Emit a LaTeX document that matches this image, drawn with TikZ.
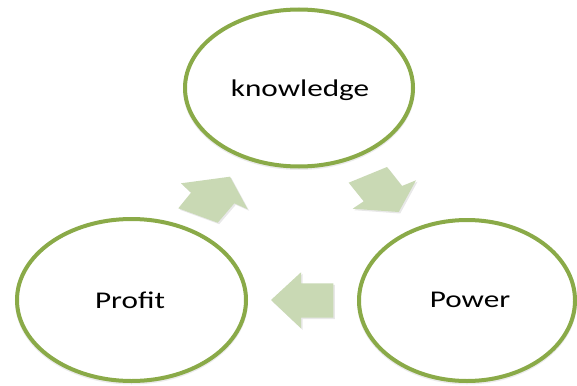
\documentclass[tikz,border=0pt]{standalone}
\usepackage{fontspec}
\setmainfont{Carlito}
\begin{document}
\begin{tikzpicture}[x=1pt,y=-1pt,
  ring/.style={draw=ringgreen, line width=4pt, fill=white},
  ringshadow/.style={draw=black, draw opacity=0.08, line width=4pt},
  label/.style={font=\fontsize{24}{28}\selectfont, text=black, inner sep=0pt},
  blockarrow/.style={fill=arrowgreen, draw=none},
  arrowshadow/.style={fill=black, fill opacity=0.09, draw=none}]
  \definecolor{ringgreen}{RGB}{138,170,72}
  \definecolor{arrowgreen}{RGB}{201,217,180}
  \useasboundingbox (0,0) rectangle (577,385);
  \fill[white] (0,0) rectangle (577,385);

  % soft shadows under the rings
  \draw[ringshadow] (299,89.5) ellipse [x radius=114, y radius=78.5];
  \draw[ringshadow] (131.5,301.5) ellipse [x radius=114.5, y radius=81];
  \draw[ringshadow] (467,302) ellipse [x radius=108, y radius=80.5];

  % the three stages of the cycle
  \draw[ring] (299,88) ellipse [x radius=114, y radius=78.5];
  \draw[ring] (131.5,300) ellipse [x radius=114.5, y radius=81];
  \draw[ring] (467,300.5) ellipse [x radius=108, y radius=80.5];
  \node[label] (knowledge) at (300,90) {\scalebox{1.3}[1]{knowledge}};
  \node[label] (profit) at (130,300) {\scalebox{1.3}[1]{Profit}};
  \node[label] (power) at (470,300) {\scalebox{1.3}[1]{Power}};

  % block arrows: profit -> knowledge
  \begin{scope}[shift={(1.5,1.5)}]
    \fill[arrowshadow] (230,176.7) -- (181,183.3) -- (191,192.7) -- (178.3,208.3)
      -- (217.7,222.7) -- (234.3,203.3) -- (247.7,209.3) -- cycle;
  \end{scope}
  \fill[blockarrow] (230,176.7) -- (181,183.3) -- (191,192.7) -- (178.3,208.3)
    -- (217.7,222.7) -- (234.3,203.3) -- (247.7,209.3) -- cycle;

  % knowledge -> power
  \begin{scope}[shift={(1.5,1.5)}]
    \fill[arrowshadow] (387,167) -- (348.7,182.7) -- (363.7,201.3) -- (352.7,208.7)
      -- (398.7,212) -- (416,180.3) -- (402,186) -- cycle;
  \end{scope}
  \fill[blockarrow] (387,167) -- (348.7,182.7) -- (363.7,201.3) -- (352.7,208.7)
    -- (398.7,212) -- (416,180.3) -- (402,186) -- cycle;

  % power -> profit
  \begin{scope}[shift={(1.5,1.5)}]
    \fill[arrowshadow] (271,300) -- (301,272.3) -- (301,283.3) -- (333.3,283.3)
      -- (333.3,317.7) -- (301,317.7) -- (301,328.3) -- cycle;
  \end{scope}
  \fill[blockarrow] (271,300) -- (301,272.3) -- (301,283.3) -- (333.3,283.3)
    -- (333.3,317.7) -- (301,317.7) -- (301,328.3) -- cycle;
\end{tikzpicture}
\end{document}
